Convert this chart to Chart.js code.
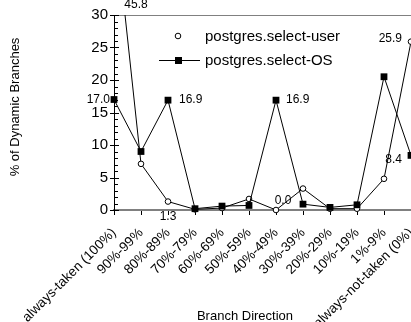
<!DOCTYPE html>
<html>
<head>
<meta charset="utf-8">
<script src="https://cdn.jsdelivr.net/npm/chart.js@4"></script>
<style>
  html, body { margin: 0; padding: 0; background: #fff; }
  #wrap { width: 411px; height: 322px; }
</style>
</head>
<body>
<div id="wrap"><canvas id="myChart" width="411" height="322"></canvas></div>
<script>
// Branch direction categories
var categories = ['always-taken (100%)', '90%-99%', '80%-89%', '70%-79%', '60%-69%', '50%-59%',
                  '40%-49%', '30%-39%', '20%-29%', '10%-19%', '1%-9%', 'always-not-taken (0%)'];

// % of dynamic branches
var userValues = [45.8, 7.1, 1.3, 0.1, 0.3, 1.7, 0.0, 3.3, 0.2, 0.2, 4.8, 25.9];
var osValues   = [17.0, 9.0, 16.9, 0.2, 0.6, 0.7, 16.9, 0.9, 0.4, 0.8, 20.5, 8.4];

var yTicks = [0, 5, 10, 15, 20, 25, 30];

var FONT = "'Liberation Sans', Arial, sans-serif";

// which points get a value label, and where the text sits relative to the point
var valueLabels = [
    { ds: 0, i: 0,  dx: 22,  dy: 0,  align: 'center', top: true },
    { ds: 1, i: 0,  dx: -4,  dy: 0,  align: 'right' },
    { ds: 1, i: 2,  dx: 11,  dy: 0,  align: 'left' },
    { ds: 0, i: 2,  dx: 0,   dy: 15, align: 'center' },
    { ds: 1, i: 6,  dx: 10,  dy: 0,  align: 'left' },
    { ds: 0, i: 6,  dx: 7,   dy: -9, align: 'center' },
    { ds: 1, i: 11, dx: -9,  dy: 4,  align: 'right' },
    { ds: 0, i: 11, dx: -9,  dy: -3, align: 'right' }
];

var extras = {
    id: 'extras',
    afterDatasetsDraw: function (chart) {
        var c = chart.ctx, y = chart.scales.y, x = chart.scales.x, a = chart.chartArea;
        c.save();
        c.strokeStyle = '#000';
        c.lineWidth = 1;
        // y tick marks: major cross the axis, minor inside only
        for (var v = 0; v <= 30; v++) {
            var py = Math.round(y.getPixelForValue(v)) + 0.5;
            c.beginPath();
            if (v % 5 === 0) { c.moveTo(a.left - 4, py); c.lineTo(a.left + 5, py); }
            else { c.moveTo(a.left, py); c.lineTo(a.left + 4, py); }
            c.stroke();
        }

        // value labels
        c.fillStyle = '#000';
        c.font = '12px ' + FONT;
        c.textBaseline = 'middle';
        valueLabels.forEach(function (l) {
            var vals = l.ds === 0 ? userValues : osValues;
            var px = x.getPixelForValue(l.i) + l.dx;
            var py = l.top ? a.top - 10 : y.getPixelForValue(vals[l.i]) + l.dy;
            c.textAlign = l.align;
            c.fillText(vals[l.i].toFixed(1), px, py);
        });

        // legend inside the plot
        c.font = '15px ' + FONT;
        c.textAlign = 'left';
        c.fillText('postgres.select-user', 205, 37);
        c.fillText('postgres.select-OS', 205, 61);
        c.beginPath();
        c.arc(178, 36, 2.8, 0, Math.PI * 2);
        c.fillStyle = '#fff';
        c.fill();
        c.stroke();
        c.beginPath();
        c.moveTo(159, 60.5); c.lineTo(200, 60.5);
        c.stroke();
        c.fillStyle = '#000';
        c.fillRect(175, 57, 7, 7);

        // axis titles
        c.font = '13px ' + FONT;
        c.textAlign = 'center';
        c.fillText('Branch Direction', 245, 316);
        c.translate(15, 107);
        c.rotate(-Math.PI / 2);
        c.fillText('% of Dynamic Branches', 0, 0);
        c.restore();
    }
};

var ctx = document.getElementById('myChart').getContext('2d');
var chart = new Chart(ctx, {
    type: 'line',
    data: {
        labels: categories,
        datasets: [{
            label: 'postgres.select-user',
            data: userValues,
            order: 2,
            borderColor: '#000',
            borderWidth: 1,
            pointStyle: 'circle',
            pointRadius: 2.8,
            pointBackgroundColor: '#fff',
            pointBorderColor: '#000',
            pointBorderWidth: 1,
            tension: 0,
            clip: { left: 6, top: 0, right: 6, bottom: 8 }
        }, {
            label: 'postgres.select-OS',
            data: osValues,
            order: 1,
            borderColor: '#000',
            borderWidth: 1,
            pointStyle: 'rect',
            pointRadius: 4.8,
            pointBackgroundColor: '#000',
            pointBorderColor: '#000',
            pointBorderWidth: 0,
            tension: 0,
            clip: { left: 6, top: 0, right: 6, bottom: 8 }
        }]
    },
    options: {
        responsive: false,
        animation: false,
        events: [],
        layout: { autoPadding: false, padding: { top: 15, right: -1, left: 0, bottom: 0 } },
        plugins: {
            legend: { display: false },
            tooltip: { enabled: false }
        },
        scales: {
            x: {
                type: 'category',
                offset: false,
                grid: { drawOnChartArea: false, drawTicks: true, tickLength: 5, color: '#000', lineWidth: 1 },
                border: { color: '#808080', width: 2 },
                ticks: {
                    autoSkip: false, minRotation: 45, maxRotation: 45,
                    color: '#000', padding: 10,
                    font: { family: FONT, size: 13.5 }
                },
                afterFit: function (s) { s.height = 112; s.paddingLeft = 0; s.paddingRight = -1; }
            },
            y: {
                min: 0,
                max: 30,
                afterBuildTicks: function (s) { s.ticks = yTicks.map(function (v) { return { value: v }; }); },
                grid: {
                    drawTicks: false,
                    color: function (c) { return c.tick && c.tick.value === 30 ? '#808080' : 'rgba(0,0,0,0)'; }
                },
                border: { color: '#000', width: 1 },
                ticks: { color: '#000', padding: 6, font: { family: FONT, size: 15 } },
                afterFit: function (s) { s.width = 114; s.paddingTop = 0; s.paddingBottom = 0; s.paddingRight = -1; }
            }
        }
    },
    plugins: [extras]
});
</script>
</body>
</html>
